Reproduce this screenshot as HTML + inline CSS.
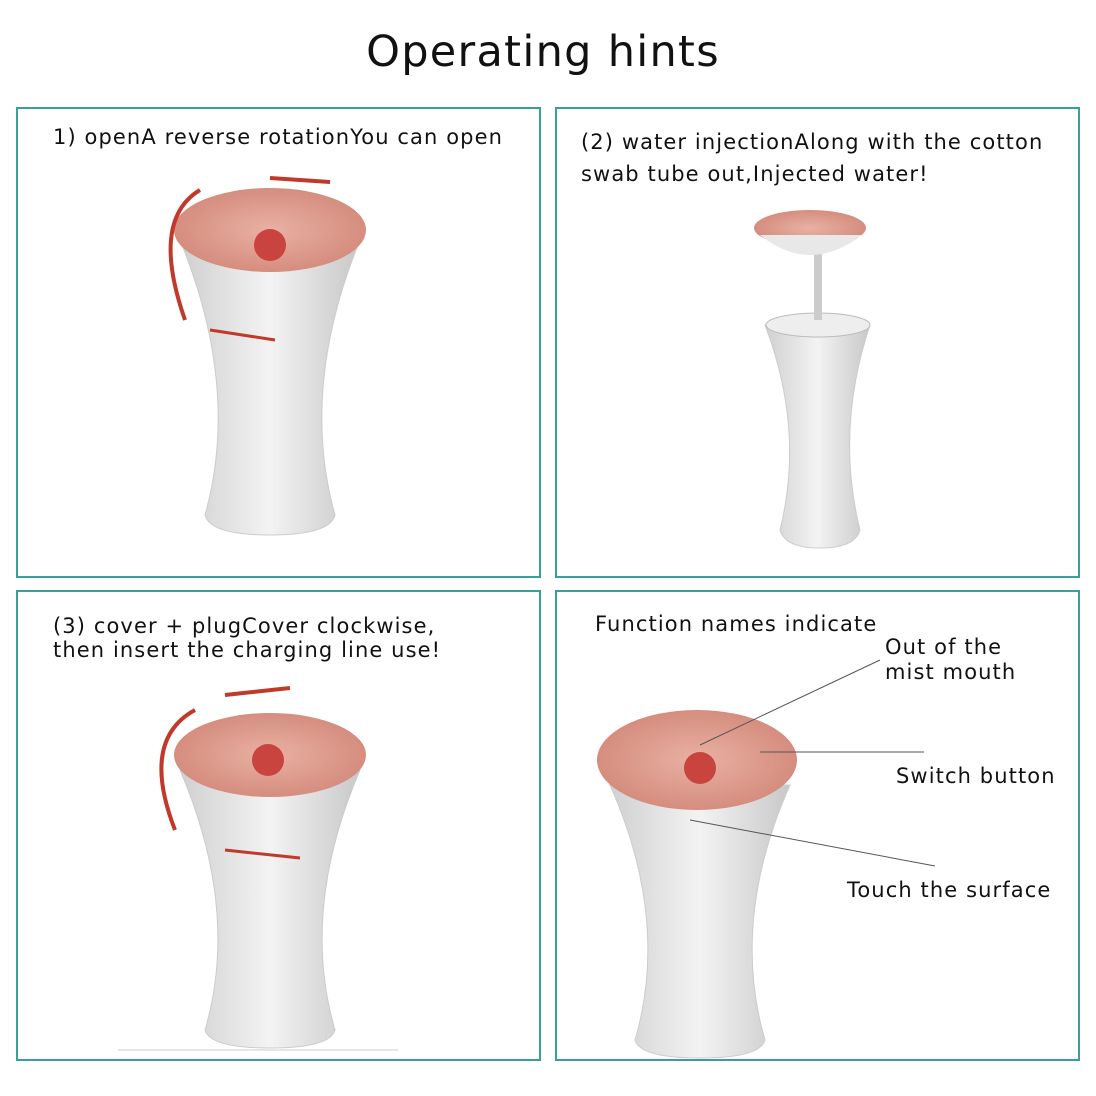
<!DOCTYPE html>
<html><head><meta charset="utf-8"><style>
body{margin:0;width:1096px;height:1096px;background:#fff;position:relative;overflow:hidden;font-family:"DejaVu Sans","Liberation Sans",sans-serif;color:#111}
.t{position:absolute;white-space:nowrap;font-size:21px;letter-spacing:1.1px}
.box{position:absolute;border:2px solid #3a9e9a;box-sizing:border-box}
svg{position:absolute;left:0;top:0}
</style></head><body>
<div class="t" style="left:0;width:1086px;text-align:center;top:27px;font-size:43px;letter-spacing:1.3px">Operating hints</div>
<div class="box" style="left:16px;top:107px;width:525px;height:471px"></div>
<div class="box" style="left:555px;top:107px;width:525px;height:471px"></div>
<div class="box" style="left:16px;top:590px;width:525px;height:471px"></div>
<div class="box" style="left:555px;top:590px;width:525px;height:471px"></div>
<div class="t" style="left:53px;top:125px">1) openA reverse rotationYou can open</div>
<div class="t" style="left:581px;top:126px;line-height:32px">(2) water injectionAlong with the cotton<br>swab tube out,Injected water!</div>
<div class="t" style="left:53px;top:614px;line-height:24px">(3) cover + plugCover clockwise,<br>then insert the charging line use!</div>
<div class="t" style="left:595px;top:612px">Function names indicate</div>
<div class="t" style="left:885px;top:635px;line-height:25px">Out of the<br>mist mouth</div>
<div class="t" style="left:896px;top:764px">Switch button</div>
<div class="t" style="left:847px;top:878px">Touch the surface</div>
<svg width="1096" height="1096">
<defs>
<linearGradient id="g" x1="0" x2="1"><stop offset="0" stop-color="#d0d0d0"/><stop offset=".5" stop-color="#f3f3f3"/><stop offset="1" stop-color="#c8c8c8"/></linearGradient>
<radialGradient id="r"><stop offset="0" stop-color="#e9b1a3"/><stop offset="1" stop-color="#d58d7e"/></radialGradient>
</defs>
<g>
<path d="M182 245 Q240 390 205 515 Q210 535 270 535 Q330 535 335 515 Q300 390 358 245 Z" fill="url(#g)" stroke="#ccc"/>
<ellipse cx="270" cy="230" rx="96" ry="42" fill="url(#r)"/>
<circle cx="270" cy="245" r="16" fill="#c9443f"/>
<path d="M200 190 Q150 220 185 320" stroke="#c0392b" stroke-width="4" fill="none"/>
<path d="M270 178 L330 182" stroke="#c0392b" stroke-width="4"/>
<path d="M210 330 L275 340" stroke="#c0392b" stroke-width="3"/>
</g>
<g>
<path d="M765 325 Q805 430 780 530 Q785 548 820 548 Q855 548 860 530 Q835 430 870 325 Z" fill="url(#g)" stroke="#ccc"/>
<ellipse cx="818" cy="325" rx="52" ry="12" fill="#eee" stroke="#bbb"/>
<rect x="814" y="240" width="8" height="80" fill="#ccc"/>
<ellipse cx="810" cy="228" rx="56" ry="18" fill="url(#r)"/>
<path d="M760 235 Q810 275 862 235" fill="#e8e8e8"/>
</g>
<g>
<path d="M180 770 Q240 910 205 1030 Q210 1048 270 1048 Q330 1048 335 1030 Q300 910 360 770 Z" fill="url(#g)" stroke="#ccc"/>
<ellipse cx="270" cy="755" rx="96" ry="42" fill="url(#r)"/>
<circle cx="268" cy="760" r="16" fill="#c9443f"/>
<path d="M195 710 Q140 740 175 830" stroke="#c0392b" stroke-width="4" fill="none"/>
<path d="M225 695 L290 688" stroke="#c0392b" stroke-width="4"/>
<path d="M225 850 L300 858" stroke="#c0392b" stroke-width="3"/>
<line x1="118" y1="1050" x2="398" y2="1050" stroke="#ccc"/>
</g>
<g>
<path d="M610 785 Q670 920 635 1040 Q640 1058 700 1058 Q760 1058 765 1040 Q730 920 790 785 Z" fill="url(#g)" stroke="#ccc"/>
<ellipse cx="697" cy="760" rx="100" ry="50" fill="url(#r)"/>
<circle cx="700" cy="768" r="16" fill="#c9443f"/>
<line x1="700" y1="745" x2="880" y2="660" stroke="#555" stroke-width="1"/>
<line x1="760" y1="752" x2="924" y2="752" stroke="#555" stroke-width="1"/>
<line x1="690" y1="820" x2="935" y2="866" stroke="#555" stroke-width="1"/>
</g>
</svg>
</body></html>
